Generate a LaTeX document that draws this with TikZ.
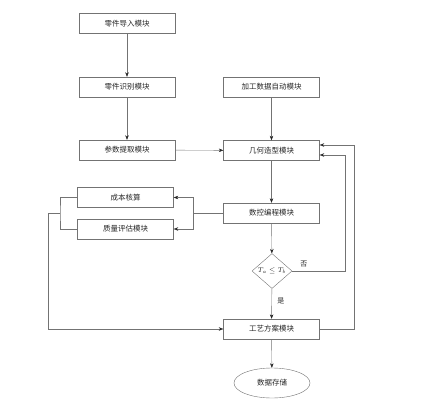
\documentclass[tikz,border=0pt]{standalone}
\usepackage{fontspec}
\newfontfamily\cjk{Noto Sans CJK SC}
\usetikzlibrary{shapes.geometric,arrows.meta}
\tikzstyle{mk}=[shape=rectangle,draw=black!55,thin,minimum width=96pt,minimum height=20pt,inner sep=0pt,text=black!85,font=\cjk\fontsize{7.5}{9}\selectfont]
\tikzstyle{dc}=[shape=diamond,draw=black!55,thin,minimum width=40pt,minimum height=35pt,aspect=1.14,inner sep=0pt,text=black!85,font=\fontsize{7}{8}\selectfont]
\tikzstyle{ov}=[shape=ellipse,draw=black!55,thin,minimum width=76pt,minimum height=30pt,inner sep=0pt,text=black!85,font=\cjk\fontsize{7.5}{9}\selectfont]
\tikzstyle{ln}=[draw=black!55,thin]
\tikzstyle{to}=[->,>={Stealth[length=4.5pt,width=3.5pt,black!85]},draw=black!55,thin]
\tikzstyle{lb}=[text=black!85,font=\cjk\fontsize{7}{8}\selectfont]

\begin{document}
\begin{tikzpicture}[x=1pt,y=-1pt]
        \useasboundingbox (0,0) rectangle (432,420);
        \node[mk] (A) at (127, 23.5) {零件导入模块};
        \node[mk] (B) at (127, 87) {零件识别模块};
        \node[mk] (C) at (127, 150) {参数提取模块};
        \node[mk] (D) at (271.5, 87) {加工数据自动模块};
        \node[mk] (E) at (271.5, 150.5) {几何造型模块};
        \node[mk] (F) at (271.5, 213) {数控编程模块};
        \node[mk] (G) at (125.5, 197.5) {成本核算};
        \node[mk] (H) at (125.5, 229) {质量评估模块};
        \node[dc] (Q) at (272, 271) {$T_a\le T_b$};
        \node[mk] (K) at (271.5, 329) {工艺方案模块};
        \node[ov] (L) at (272, 383) {数据存储};

        % junctions
        \coordinate (p) at (193, 213);
        \coordinate (q) at (60, 213);
        \coordinate (r) at (48, 213);
        \coordinate (s) at (345, 271);
        \coordinate (t) at (354, 329);

        \draw[to] (A) -- (B);
        \draw[to] (B) -- (C);
        \draw[to] (C) -- (E);
        \draw[to] (D) -- (E);
        \draw[to] (E) -- (F);
        \draw[to] (F) -- (Q);
        \draw[to] (Q) -- node[lb, right, pos=0.4, xshift=2pt] {是} (K);
        \draw[to] (K) -- (L);

        \draw[ln] (F.west) -- (p);
        \draw[to] (p) |- (G.east);
        \draw[to] (p) |- (H.east);
        \draw[ln] (G.west) -| (q) |- (H.west);
        \draw[to] (q) -- (r) |- (K.west);

        \draw[to] (Q.east) -- node[lb, above, pos=0.22] {否} (s) |- ([yshift=-4.5pt]E.east);
        \draw[to] (K.east) -- (t) |- ([yshift=5.5pt]E.east);
    \end{tikzpicture}
\end{document}
